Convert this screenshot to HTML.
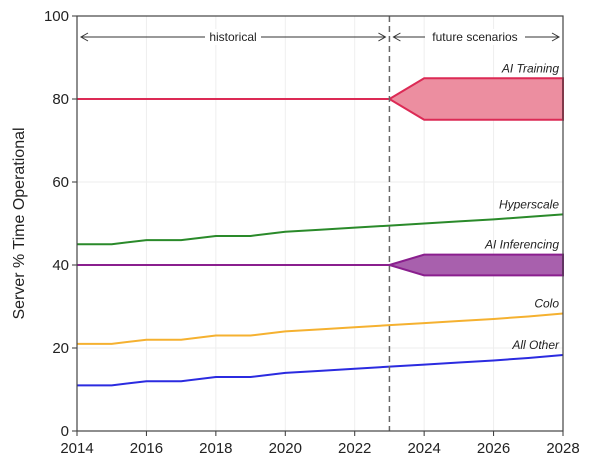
<!DOCTYPE html>
<html><head><meta charset="utf-8"><style>
body{margin:0;background:#fff;font-family:"Liberation Sans",sans-serif}
svg text{font-family:"Liberation Sans",sans-serif}
</style></head><body>
<svg id="c" width="600" height="468"></svg>
<script>
const years=[2014,2015,2016,2017,2018,2019,2020,2021,2022,2023,2024,2025,2026,2027,2028];
const hyperscale=[45,45,46,46,47,47,48,48.5,49,49.5,50,50.5,51,51.6,52.2];
const colo=[21,21,22,22,23,23,24,24.5,25,25.5,26,26.5,27,27.6,28.3];
const allOther=[11,11,12,12,13,13,14,14.5,15,15.5,16,16.5,17,17.6,18.3];
const trainBase=80, trainLow=75, trainHigh=85;
const inferBase=40, inferLow=37.5, inferHigh=42.5;
const xTicks=[2014,2016,2018,2020,2022,2024,2026,2028];
const yTicks=[0,20,40,60,80,100];
const splitYear=2023, bandStart=2024;
const X0=77,X1=563,Y0=431,Y1=16;
const x=v=>X0+(v-2014)/(2028-2014)*(X1-X0);
const y=v=>Y0-v/100*(Y0-Y1);
const s=document.getElementById('c');const NS='http://www.w3.org/2000/svg';
function mk(t,a,name,txt){const e=document.createElementNS(NS,t);for(const k in a)e.setAttribute(k,a[k]);


if(txt!==undefined)e.textContent=txt;s.appendChild(e);return e;}
xTicks.forEach(t=>{mk('line',{x1:x(t),x2:x(t),y1:Y1,y2:Y0,stroke:'#eee','stroke-width':1},'x-grid-line');
mk('line',{x1:x(t),x2:x(t),y1:Y0,y2:Y0+5,stroke:'#333'},'x-tick');
mk('text',{x:x(t),y:Y0+22,'text-anchor':'middle','font-size':15,fill:'#222'},'x-tick-label',t);});
yTicks.forEach(t=>{mk('line',{x1:X0,x2:X1,y1:y(t),y2:y(t),stroke:'#eee','stroke-width':1},'y-grid-line');
mk('line',{x1:X0-5,x2:X0,y1:y(t),y2:y(t),stroke:'#333'},'y-tick');
mk('text',{x:X0-8,y:y(t)+5,'text-anchor':'end','font-size':15,fill:'#222'},'y-tick-label',t);});
mk('text',{x:24,y:(Y0+Y1)/2,'text-anchor':'middle','font-size':16,fill:'#222',transform:`rotate(-90 24 ${(Y0+Y1)/2})`},'y-axis-title','Server % Time Operational');
function band(base,lo,hi,fill,stroke,name){
const p=`${x(splitYear)},${y(base)} ${x(bandStart)},${y(hi)} ${x(2028)},${y(hi)} ${x(2028)},${y(lo)} ${x(bandStart)},${y(lo)}`;
mk('polygon',{points:p,fill:fill,stroke:stroke,'stroke-width':2},name+'-band');
mk('line',{x1:x(2014),x2:x(splitYear),y1:y(base),y2:y(base),stroke:stroke,'stroke-width':2},name+'-line');}
band(trainBase,trainLow,trainHigh,'#ec8ea0','#dc2a55','ai-training');
band(inferBase,inferLow,inferHigh,'#a860ad','#8a1f8e','ai-inferencing');
function line(d,c,name){mk('polyline',{points:d.map((v,i)=>x(years[i])+','+y(v)).join(' '),fill:'none',stroke:c,'stroke-width':2},name);}
line(hyperscale,'#2a8a2a','hyperscale-line');line(colo,'#f5b130','colo-line');line(allOther,'#2b2be0','all-other-line');
mk('line',{x1:x(splitYear),x2:x(splitYear),y1:Y1,y2:Y0,stroke:'#666','stroke-width':1.5,'stroke-dasharray':'6,4'},'split-line');
const lbl=[['AI Training',trainHigh],['Hyperscale',hyperscale[14]],['AI Inferencing',inferHigh],['Colo',colo[14]],['All Other',allOther[14]]];
lbl.forEach(([t,v])=>mk('text',{x:X1-4,y:y(v)-6,'text-anchor':'end','font-size':12,'font-style':'italic',fill:'#222'},'series-label',t));
const ay=37;
mk('line',{x1:x(2014)+4,x2:x(2023)-4,y1:ay,y2:ay,stroke:'#333'},'historical-arrow');
mk('line',{x1:x(2023)+4,x2:x(2028)-4,y1:ay,y2:ay,stroke:'#333'},'future-arrow');
[[x(2014)+4,1],[x(2023)-4,-1],[x(2023)+4,1],[x(2028)-4,-1]].forEach(([px,d])=>mk('polyline',{points:`${px+7*d},${ay-4} ${px},${ay} ${px+7*d},${ay+4}`,fill:'none',stroke:'#333'},'arrow-head'));
mk('rect',{x:205,y:ay-8,width:56,height:16,fill:'#fff'},'label-bg');
mk('text',{x:233,y:ay+4,'text-anchor':'middle','font-size':12,fill:'#222'},'historical-label','historical');
mk('rect',{x:425,y:ay-8,width:100,height:16,fill:'#fff'},'label-bg');
mk('text',{x:475,y:ay+4,'text-anchor':'middle','font-size':12,fill:'#222'},'future-label','future scenarios');
mk('rect',{x:X0,y:Y1,width:X1-X0,height:Y0-Y1,fill:'none',stroke:'#444','stroke-width':1.2},'plot-frame');
</script>
</body></html>
